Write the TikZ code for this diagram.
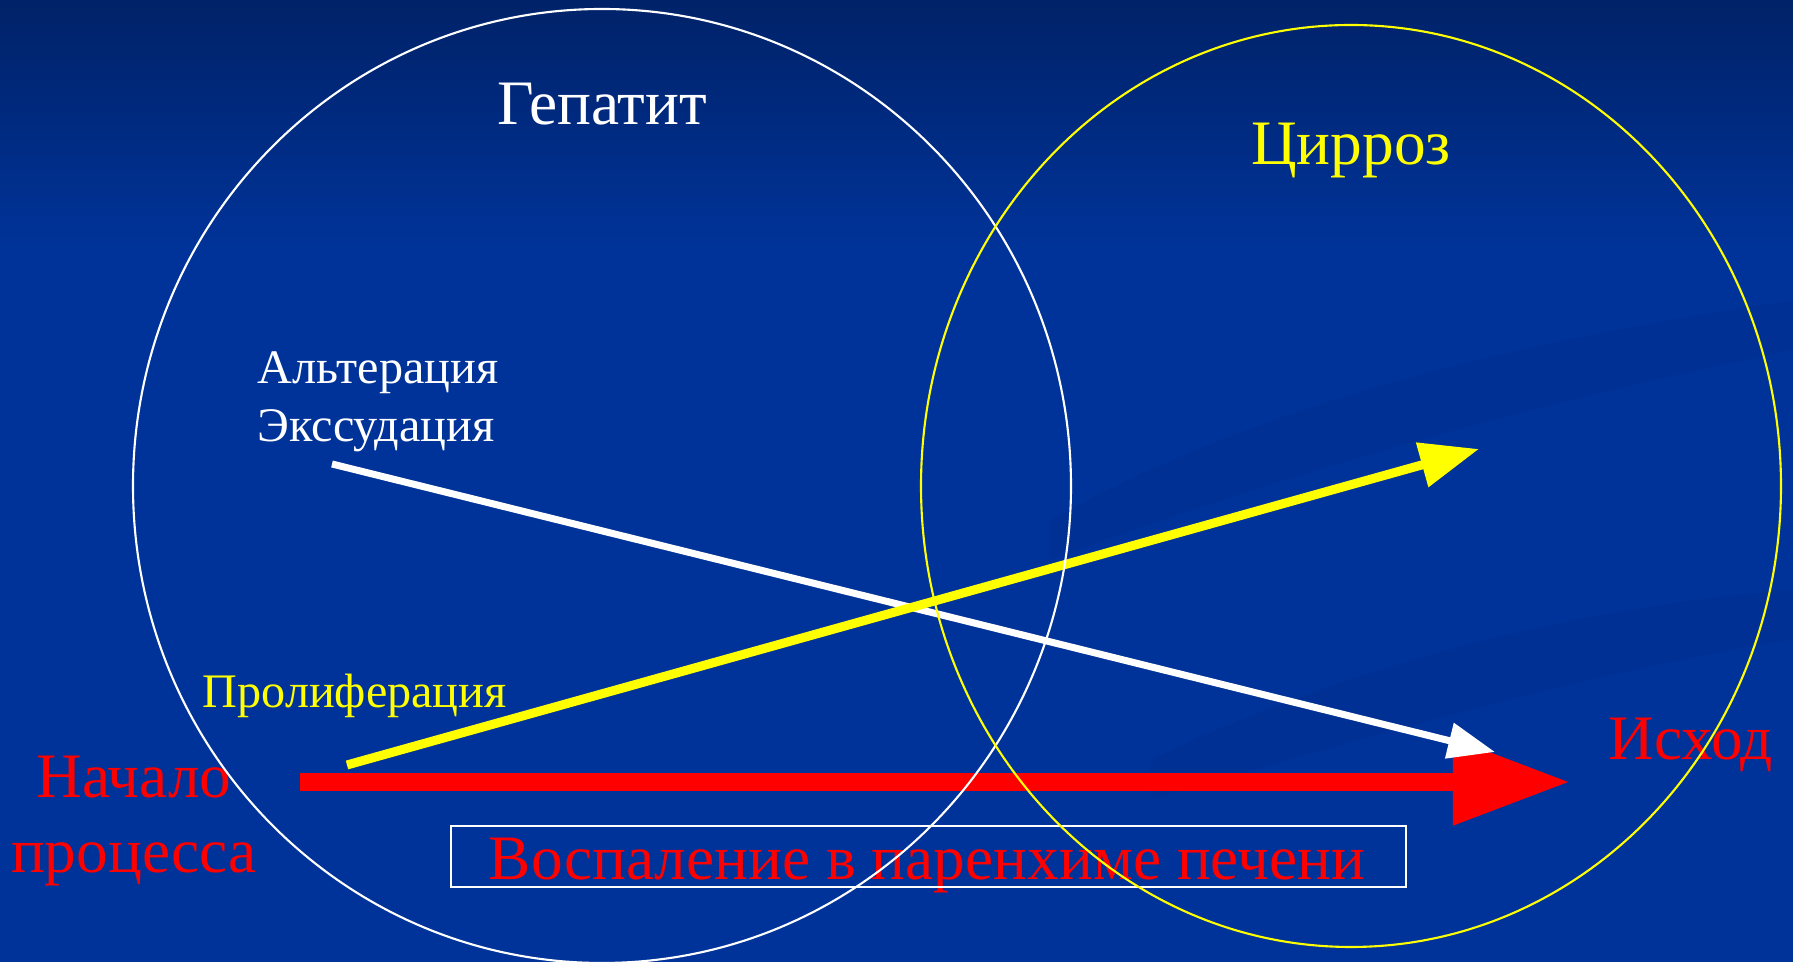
\documentclass[tikz,border=0pt]{standalone}
\usepackage{fontspec}
\setmainfont{Liberation Serif}
\usepackage{tikz}
\usetikzlibrary{arrows.meta,positioning,calc}

\definecolor{bgtop}{RGB}{0,34,104}
\definecolor{bgmain}{RGB}{0,51,153}
\definecolor{hred}{RGB}{255,0,0}
\definecolor{hyellow}{RGB}{255,255,0}

\begin{document}
\begin{tikzpicture}[x=0.01cm,y=-0.01cm,
  big/.style={inner sep=0pt,anchor=base,font=\fontsize{18}{21.6}\selectfont},
  small/.style={inner sep=0pt,anchor=base west,font=\fontsize{13.7}{16.5}\selectfont}]
\useasboundingbox (0,0) rectangle (1793,962);
% Background: dark band on top fading into the slide blue
\fill[bgmain] (0,0) rectangle (1793,962);
\shade[top color=bgtop,bottom color=bgmain] (0,0) rectangle (1793,250);
% Faint swirls on the right
\fill[bgtop,opacity=0.12] (1050,520) .. controls (1300,380) and (1600,330) .. (1793,300)
  -- (1793,350) .. controls (1600,390) and (1350,450) .. (1050,560) -- cycle;
\fill[bgtop,opacity=0.12] (1150,760) .. controls (1400,640) and (1650,600) .. (1793,590)
  -- (1793,640) .. controls (1650,660) and (1420,720) .. (1150,800) -- cycle;
% Labels (multi-line nodes sit on the baseline of their last line)
\node[big,text=white] (hep) at (602,125) {Гепатит};
\node[big,text=hyellow] (cir) at (1351,165) {Цирроз};
\node[small,text=white,align=left] (alt) at (257,442) {Альтерация\\Экссудация};
\node[small,text=hyellow] (prol) at (202,708) {Пролиферация};
\node[big,text=hred,align=center] (start) at (134,873) {Начало\\процесса};
\node[big,text=hred] (outc) at (1691,760) {Исход};
\node[big,text=hred] (infl) at (927,880) {Воспаление в паренхиме печени};
\draw[white,line width=0.8pt] (451,826) rectangle (1406,887);
% Arrows
\coordinate (r0) at (300,782);
\coordinate (r1) at (1570,782);
\coordinate (w0) at (332,464);
\coordinate (w1) at (1495,752);
\coordinate (y0) at (347,765);
\coordinate (y1) at (1479,449);
\draw[hred,line width=0.18cm,-{Triangle[length=1.17cm,width=0.82cm]}] (r0) -- (r1);
\draw[white,line width=0.07cm,-{Triangle[length=0.47cm,width=0.35cm]}] (w0) -- (w1);
\draw[hyellow,line width=0.09cm,-{Triangle[length=0.59cm,width=0.44cm]}] (y0) -- (y1);
% Circles
\draw[white,line width=0.6pt] (602,486) ellipse [x radius=469,y radius=477];
\draw[hyellow,line width=0.6pt] (1351,486) ellipse [x radius=430,y radius=461];
\end{tikzpicture}
\end{document}
